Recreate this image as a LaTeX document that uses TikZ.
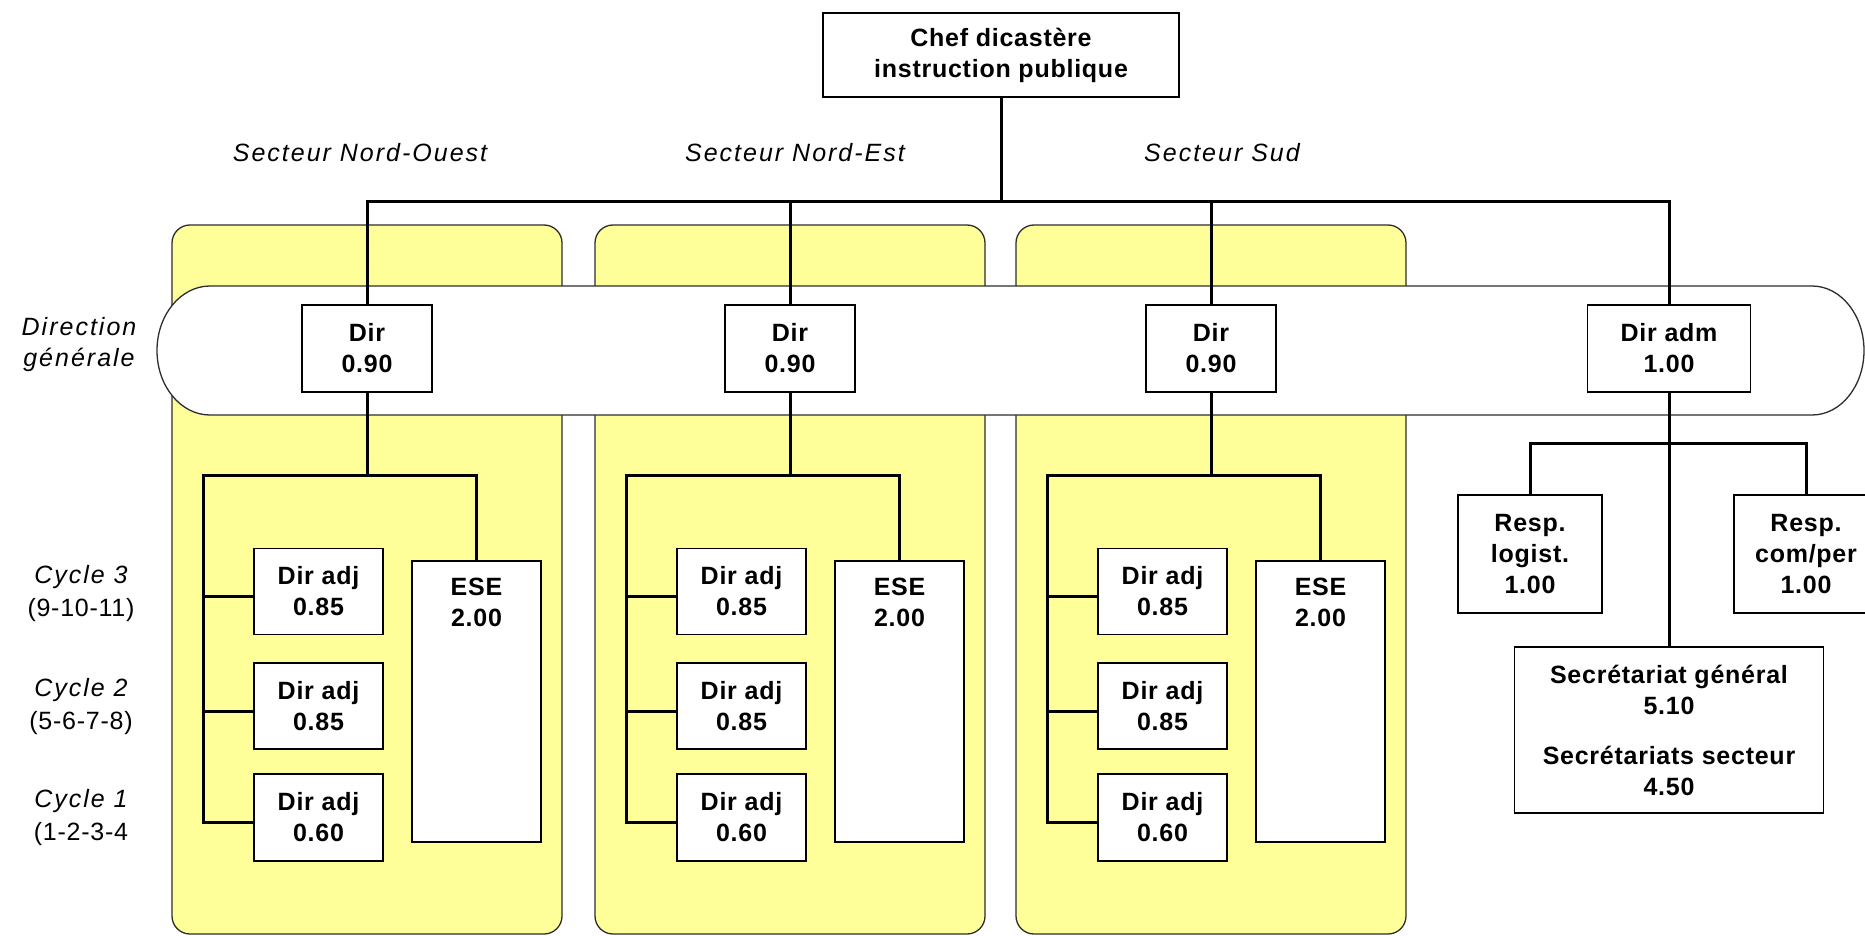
\documentclass[tikz,border=0pt]{standalone}
\usepackage{fontspec}
\setmainfont{Liberation Sans}[LetterSpace=3]
\newfontfamily\lblfont{Liberation Sans}[LetterSpace=8]
\usetikzlibrary{calc}
\definecolor{panelyellow}{RGB}{255,255,153}
\definecolor{edgegray}{RGB}{45,45,45}
\newcommand{\orgfont}{\fontsize{25}{31}\selectfont\bfseries}
\begin{document}
\begin{tikzpicture}[x=1pt,y=-1pt,
  orgbox/.style={draw=black, line width=1.5pt, fill=white, align=center, inner sep=0pt, font=\orgfont},
  conn/.style={draw=black, line width=3pt, line join=miter},
  panel/.style={draw=edgegray, line width=1.3pt, fill=panelyellow, rounded corners=18pt},
  band/.style={draw=edgegray, line width=1.3pt, fill=white},
  seclbl/.style={inner sep=0pt, align=center, font=\lblfont\itshape\fontsize{25}{31}\selectfont},
  cyclbl/.style={inner sep=0pt, align=center, font=\fontsize{25}{33}\selectfont},
  eselbl/.style={inner sep=0pt, align=center, font=\orgfont, anchor=north, yshift=-18pt}]

\clip (0,0) rectangle (1865,936);

% sector panels
\foreach \dx in {0,423,844}{
  \draw[panel] (172+\dx,225) rectangle (562+\dx,934);
}

% Direction generale band
\draw[band] (210,286) -- (1812,286)
  arc[start angle=90, end angle=-90, x radius=52pt, y radius=64.5pt]
  -- (210,415)
  arc[start angle=270, end angle=90, x radius=53pt, y radius=64.5pt] -- cycle;

% labels
\node[seclbl] (lblNO) at (360,153) {Secteur Nord-Ouest};
\node[seclbl] (lblNE) at (795,153) {Secteur Nord-Est};
\node[seclbl] (lblS) at (1222,153) {Secteur Sud};
\node[seclbl] (lblDG) at (79,345) {Direction\\générale};
\node[cyclbl] (cy3) at (81,594) {{\lblfont\itshape Cycle 3}\\(9-10-11)};
\node[cyclbl] (cy2) at (81,707) {{\lblfont\itshape Cycle 2}\\(5-6-7-8)};
\node[cyclbl] (cy1) at (81,818) {{\lblfont\itshape Cycle 1}\\(1-2-3-4};

% top
\node[orgbox, minimum width=356pt, minimum height=84pt] (chef) at (1001,55) {Chef dicastère\\instruction publique};
\coordinate (bus) at (1001,202);

% sector clusters
\foreach \k/\dx in {1/0,2/423,3/844}{
  \node[orgbox, minimum width=130pt, minimum height=87pt] (dir\k) at (367+\dx,348.5) {Dir\\0.90};
  \node[orgbox, minimum width=129pt, minimum height=86pt] (adjA\k) at (318.5+\dx,591.5) {Dir adj\\0.85};
  \node[orgbox, minimum width=129pt, minimum height=86pt] (adjB\k) at (318.5+\dx,706) {Dir adj\\0.85};
  \node[orgbox, minimum width=129pt, minimum height=87pt] (adjC\k) at (318.5+\dx,817.5) {Dir adj\\0.60};
  \node[orgbox, minimum width=129pt, minimum height=281pt,
        label={[eselbl]north:ESE\\2.00}] (ese\k) at (476.5+\dx,701.5) {};
  \coordinate (sp\k) at (203+\dx,475);
  \coordinate (cA\k) at ($(adjA\k.west)+(0,4.5)$);
  \coordinate (cB\k) at ($(adjB\k.west)+(0,5)$);
  \coordinate (cC\k) at ($(adjC\k.west)+(0,5)$);
  \draw[conn] (dir\k.south) -- (dir\k.south |- sp\k);
  \draw[conn] (ese\k.north) |- (sp\k) |- (cC\k);
  \draw[conn] (sp\k |- cA\k) -- (cA\k);
  \draw[conn] (sp\k |- cB\k) -- (cB\k);
}

% administration
\node[orgbox, minimum width=163pt, minimum height=87pt] (diradm) at (1669,348.5) {Dir adm\\1.00};
\node[orgbox, minimum width=144pt, minimum height=118pt] (logist) at (1530,554) {Resp.\\logist.\\1.00};
\node[orgbox, minimum width=144pt, minimum height=118pt] (comper) at (1806,554) {Resp.\\com/per\\1.00};
\node[orgbox, minimum width=309pt, minimum height=166pt] (secr) at (1669,730) {Secrétariat général\\5.10\\[19pt]Secrétariats secteur\\4.50};
\coordinate (rb) at (1669,443);

% connectors top level
\draw[conn] (chef.south) -- (bus);
\draw[conn] (dir1.north) |- (bus) -| (diradm.north);
\draw[conn] (dir2.north) -- (dir2.north |- bus);
\draw[conn] (dir3.north) -- (dir3.north |- bus);
\draw[conn] (diradm.south) -- (secr.north);
\draw[conn] (logist.north) |- (rb) -| (comper.north);
\end{tikzpicture}
\end{document}
